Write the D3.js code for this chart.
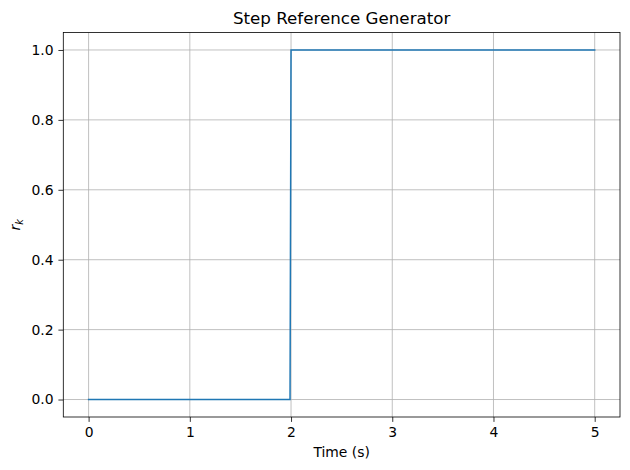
<!DOCTYPE html>
<html>
<head>
<meta charset="utf-8">
<script src="https://cdn.jsdelivr.net/npm/d3@7"></script>
<style>
  body { margin: 0; background: #fff; }
  svg { font-family: "DejaVu Sans", sans-serif; }
</style>
</head>
<body>
<div id="chart"></div>
<script>
// step reference samples (time in s, r_k)
var times = [0, 1.99, 2.0, 5.0];
var values = [0, 0, 1, 1];
var xTicks = [0, 1, 2, 3, 4, 5];
var yTicks = [0.0, 0.2, 0.4, 0.6, 0.8, 1.0];

var width = 630;
var height = 470;
var margin = { top: 32.5, right: 10, bottom: 53, left: 63.3 };

var svg = d3.select("#chart")
  .append("svg")
  .attr("width", width)
  .attr("height", height);

var xScale = d3.scaleLinear()
  .domain([-0.25, 5.25])
  .range([margin.left, width - margin.right]);
var yScale = d3.scaleLinear()
  .domain([-0.05, 1.05])
  .range([height - margin.bottom, margin.top]);

// grid
var grid = svg.append("g").attr("class", "grid");
grid.selectAll("line.gx")
  .data(xTicks)
  .enter()
  .append("line")
  .attr("x1", function(d) { return xScale(d); })
  .attr("x2", function(d) { return xScale(d); })
  .attr("y1", yScale.range()[0])
  .attr("y2", yScale.range()[1])
  .attr("stroke", "#b0b0b0")
  .attr("stroke-width", 0.8);
grid.selectAll("line.gy")
  .data(yTicks)
  .enter()
  .append("line")
  .attr("y1", function(d) { return yScale(d); })
  .attr("y2", function(d) { return yScale(d); })
  .attr("x1", xScale.range()[0])
  .attr("x2", xScale.range()[1])
  .attr("stroke", "#b0b0b0")
  .attr("stroke-width", 0.8);

// the step line
var line = d3.line()
  .x(function(d, i) { return xScale(times[i]); })
  .y(function(d) { return yScale(d); });

svg.append("path")
  .datum(values)
  .attr("d", line)
  .attr("fill", "none")
  .attr("stroke", "#1f77b4")
  .attr("stroke-width", 1.5)
  .attr("stroke-linejoin", "miter")
  .attr("stroke-linecap", "square");

// axes
var xAxis = d3.axisBottom(xScale)
  .tickValues(xTicks)
  .tickFormat(d3.format("d"))
  .tickSize(4.9)
  .tickPadding(4.9)
  .tickSizeOuter(0);
var yAxis = d3.axisLeft(yScale)
  .tickValues(yTicks)
  .tickFormat(d3.format(".1f"))
  .tickSize(4.9)
  .tickPadding(4.9)
  .tickSizeOuter(0);

var gx = svg.append("g")
  .attr("transform", "translate(0," + (height - margin.bottom) + ")")
  .call(xAxis);
var gy = svg.append("g")
  .attr("transform", "translate(" + margin.left + ",0)")
  .call(yAxis);

[gx, gy].forEach(function(g) {
  g.select(".domain").remove();
  g.selectAll(".tick line").attr("stroke", "#000").attr("stroke-width", 0.8);
  g.selectAll(".tick text")
    .attr("fill", "#000")
    .attr("font-size", "13.9px")
    .attr("font-family", "DejaVu Sans, sans-serif");
});

// frame
svg.append("rect")
  .attr("x", xScale.range()[0])
  .attr("y", yScale.range()[1])
  .attr("width", xScale.range()[1] - xScale.range()[0])
  .attr("height", yScale.range()[0] - yScale.range()[1])
  .attr("fill", "none")
  .attr("stroke", "#000")
  .attr("stroke-width", 0.8);

// title and labels
svg.append("text")
  .attr("x", (xScale.range()[0] + xScale.range()[1]) / 2)
  .attr("y", 24)
  .attr("text-anchor", "middle")
  .attr("font-size", "16.7px")
  .text("Step Reference Generator");

svg.append("text")
  .attr("x", (xScale.range()[0] + xScale.range()[1]) / 2)
  .attr("y", 457)
  .attr("text-anchor", "middle")
  .attr("font-size", "13.9px")
  .text("Time (s)");

var yLabel = svg.append("text")
  .attr("transform", "translate(20," + ((yScale.range()[0] + yScale.range()[1]) / 2) + ") rotate(-90)")
  .attr("text-anchor", "middle")
  .attr("font-size", "13.9px")
  .attr("font-style", "italic");
yLabel.append("tspan").text("r");
yLabel.append("tspan")
  .attr("font-size", "9.7px")
  .attr("dy", 3)
  .text("k");
</script>
</body>
</html>
